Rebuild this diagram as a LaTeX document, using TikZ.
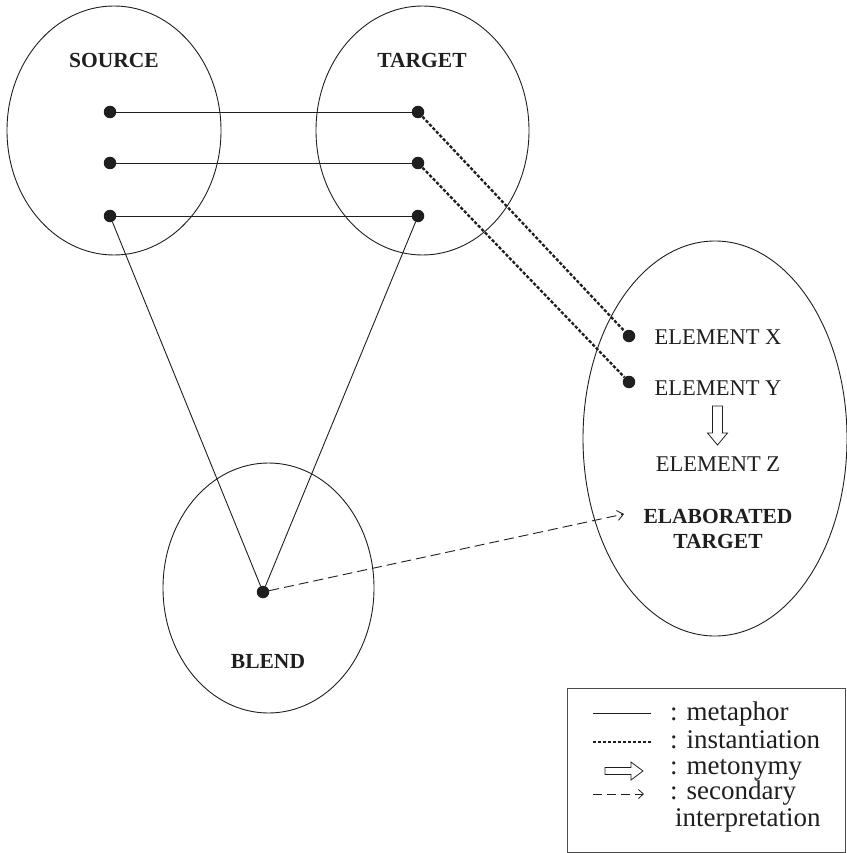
\documentclass[tikz,border=0pt]{standalone}
\usepackage{fontspec}
\setmainfont{Liberation Serif}
\usetikzlibrary{shapes.geometric,arrows.meta}

\definecolor{ink}{gray}{0.12}

\tikzset{
  region/.style={draw=ink, line width=0.9pt, ellipse, inner sep=0pt},
  dot/.style={circle, fill=ink, minimum size=12.5pt, inner sep=0pt},
  metaphor/.style={draw=ink, line width=0.9pt},
  instantiation/.style={draw=ink, line width=2.3pt, dash pattern=on 3.2pt off 1.8pt},
  secondary/.style={draw=ink, line width=0.9pt, dash pattern=on 10pt off 5pt,
    -{Straight Barb[length=6pt,width=10pt,line width=0.9pt]}},
  hollow/.style={draw=ink, line width=0.8pt, fill=white, line join=miter},
  heading/.style={font=\fontsize{21.5}{25}\selectfont\bfseries, text=ink, anchor=base, inner sep=0pt},
  elem/.style={font=\fontsize{22.5}{25}\selectfont, text=ink, anchor=base, inner sep=0pt},
  keytext/.style={font=\fontsize{27}{27}\selectfont, text=ink, anchor=base west, inner sep=0pt},
}

\begin{document}
\begin{tikzpicture}[x=1pt, y=-1pt]
\useasboundingbox (0,0) rectangle (846,853);

% mental spaces
\node[region, minimum width=214pt, minimum height=249pt] (source) at (114,130.5) {};
\node[region, minimum width=213pt, minimum height=249pt] (target) at (422.5,130.5) {};
\node[region, minimum width=211pt, minimum height=250pt] (blend) at (268.5,588) {};
\node[region, minimum width=264pt, minimum height=395pt] (elab) at (715,438.5) {};

% space labels
\node[heading] (lsource) at (114,68) {SOURCE};
\node[heading] (ltarget) at (422,68) {TARGET};
\node[heading] (lblend) at (268,668) {BLEND};

% elements
\node[dot] (s1) at (110,112) {};
\node[dot] (s2) at (110,163) {};
\node[dot] (s3) at (110,216) {};
\node[dot] (t1) at (418,112) {};
\node[dot] (t2) at (418,163) {};
\node[dot] (t3) at (418,216) {};
\node[dot] (b1) at (263,592) {};
\node[dot] (ex) at (629,336) {};
\node[dot] (ey) at (629,382) {};

\node[elem] (lx) at (718,344) {ELEMENT X};
\node[elem] (ly) at (718,395) {ELEMENT Y};
\node[elem] (lz) at (718,471) {ELEMENT Z};
% the base anchor of a two-line node sits on its last line
\node[heading, align=center, font=\fontsize{21.5}{25}\selectfont\bfseries] (lelab) at (718,548) {ELABORATED\\TARGET};
\coordinate (etip) at (624,514);

% metaphor mappings
\draw[metaphor] (s1) -- (t1);
\draw[metaphor] (s2) -- (t2);
\draw[metaphor] (s3) -- (t3);
\draw[metaphor] (s3) -- (b1);
\draw[metaphor] (t3) -- (b1);

% instantiation
\draw[instantiation] (t1) -- (ex);
\draw[instantiation] (t2) -- (ey);

% secondary interpretation
\draw[secondary] (b1) -- (etip);

% metonymy: Y to Z
\draw[hollow] (712.5,406) -- (722.5,406) -- (722.5,433) -- (727.5,433)
  -- (717.5,445) -- (707.5,433) -- (712.5,433) -- cycle;

% key
\node[draw=ink!80, line width=1pt, minimum width=278pt, minimum height=164pt,
  inner sep=0pt] (key) at (706.5,770.5) {};
\coordinate (k1a) at (593,713); \coordinate (k1b) at (651,713);
\coordinate (k2a) at (593,742); \coordinate (k2b) at (651,742);
\coordinate (k4a) at (593,794); \coordinate (k4b) at (644,794);
\draw[metaphor] (k1a) -- (k1b);
\draw[draw=ink, line width=1.6pt, dash pattern=on 3pt off 2pt] (k2a) -- (k2b);
\draw[hollow] (605,767.5) -- (631,767.5) -- (631,762) -- (643,771)
  -- (631,780) -- (631,774.5) -- (605,774.5) -- cycle;
\draw[draw=ink, line width=0.8pt, dash pattern=on 9pt off 5pt,
  -{Straight Barb[length=5pt,width=9pt,line width=0.8pt]}] (k4a) -- (k4b);

\node[keytext] (km) at (670,720.5) {: metaphor};
\node[keytext] (ki) at (670,748) {: instantiation};
\node[keytext] (kn) at (670,774) {: metonymy};
\node[keytext] (ks) at (670,799) {: secondary};
\node[keytext] (ks2) at (675,826) {interpretation};
\end{tikzpicture}
\end{document}
